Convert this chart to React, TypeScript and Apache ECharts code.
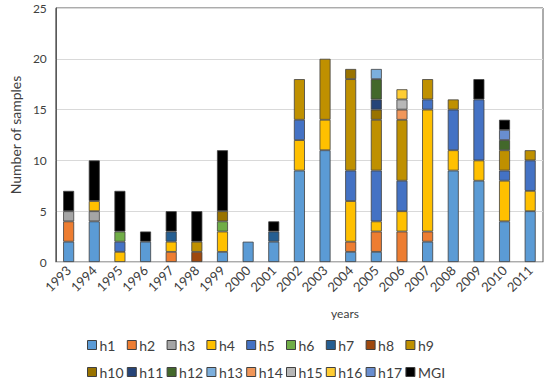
import React, { useEffect, useRef } from "react";
import * as echarts from "echarts";

const years = ["1993","1994","1995","1996","1997","1998","1999","2000","2001","2002","2003","2004","2005","2006","2007","2008","2009","2010","2011"];

const h1 = [2,4,0,2,0,0,1,2,2,9,11,1,1,0,2,9,8,4,5];
const h2 = [2,0,0,0,1,0,0,0,0,0,0,1,2,3,1,0,0,0,0];
const h3 = [1,1,0,0,0,0,0,0,0,0,0,0,0,0,0,0,0,0,0];
const h4 = [0,1,1,0,1,0,2,0,0,3,3,4,1,2,12,2,2,4,2];
const h5 = [0,0,1,0,0,0,0,0,0,2,0,3,5,3,1,4,6,1,3];
const h6 = [0,0,1,0,0,0,1,0,0,0,0,0,0,0,0,0,0,0,0];
const h7 = [0,0,0,0,1,0,0,0,1,0,0,0,0,0,0,0,0,0,0];
const h8 = [0,0,0,0,0,1,0,0,0,0,0,0,0,0,0,0,0,0,0];
const h9 = [0,0,0,0,0,1,0,0,0,4,6,9,5,6,2,1,0,2,1];
const h10 = [0,0,0,0,0,0,1,0,0,0,0,1,1,0,0,0,0,0,0];
const h11 = [0,0,0,0,0,0,0,0,0,0,0,0,1,0,0,0,0,0,0];
const h12 = [0,0,0,0,0,0,0,0,0,0,0,0,2,0,0,0,0,1,0];
const h13 = [0,0,0,0,0,0,0,0,0,0,0,0,1,0,0,0,0,0,0];
const h14 = [0,0,0,0,0,0,0,0,0,0,0,0,0,1,0,0,0,0,0];
const h15 = [0,0,0,0,0,0,0,0,0,0,0,0,0,1,0,0,0,0,0];
const h16 = [0,0,0,0,0,0,0,0,0,0,0,0,0,1,0,0,0,0,0];
const h17 = [0,0,0,0,0,0,0,0,0,0,0,0,0,0,0,0,0,1,0];
const MGI = [2,4,4,1,2,3,6,0,1,0,0,0,0,0,0,0,2,1,0];

const seriesNames = ["h1","h2","h3","h4","h5","h6","h7","h8","h9","h10","h11","h12","h13","h14","h15","h16","h17","MGI"];
const seriesValues = [h1,h2,h3,h4,h5,h6,h7,h8,h9,h10,h11,h12,h13,h14,h15,h16,h17,MGI];
const seriesColors = ["#5B9BD5","#ED7D31","#A5A5A5","#FFC000","#4472C4","#70AD47","#255E91","#9E480E","#BF9000","#997300","#264478","#43682B","#7CAFDD","#F1975A","#B7B7B7","#FFCD33","#698ED0","#000000"];

const FONT = "Lato, 'Open Sans', sans-serif";

export default function App() {
  const ref = useRef<HTMLDivElement>(null);
  useEffect(() => {
    if (!ref.current) return;
    const chart = echarts.init(ref.current, null, { renderer: "svg" });
    // legend laid out as a 9-column grid: one vertical legend per column
    const columns = 9;
    const legends = Array.from({ length: columns }, (_, c) => ({
      left: 87 + c * 39.8,
      top: 338,
      orient: "vertical" as const,
      itemWidth: 9,
      itemHeight: 9,
      itemGap: 13,
      icon: "rect",
      padding: 0,
      textStyle: {
        fontFamily: FONT,
        fontSize: 14,
        lineHeight: 14,
        color: "#404040",
        padding: [0, 0, 0, -2],
      },
      itemStyle: { borderColor: "#404040", borderWidth: 1 },
      data: seriesNames.filter((_, i) => i % columns === c),
    }));
    chart.setOption({
      animation: false,
      textStyle: { fontFamily: FONT },
      grid: { left: 40, right: 7, top: 8, bottom: 122, show: true, borderColor: "#595959", borderWidth: 1, backgroundColor: "transparent" },
      legend: legends,
      xAxis: {
        type: "category",
        data: years,
        axisLine: { show: true, lineStyle: { color: "#D9D9D9" } },
        axisTick: { show: false },
        axisLabel: { rotate: 45, fontSize: 13, color: "#404040", margin: 6, fontFamily: FONT, interval: 0 },
      },
      yAxis: {
        type: "value",
        min: 0,
        max: 25,
        interval: 5,
        name: "Number of samples",
        nameLocation: "middle",
        nameGap: 25,
        nameTextStyle: { fontSize: 14, color: "#404040", fontFamily: FONT },
        axisLine: { show: true, lineStyle: { color: "#595959" } },
        axisTick: { show: false },
        axisLabel: { fontSize: 12, color: "#404040", margin: 9, fontFamily: FONT },
        splitLine: { lineStyle: { color: "#D9D9D9" } },
      },
      graphic: [
        { type: "text", x: 345, y: 313, style: { text: "years", fontSize: 12, fill: "#404040", fontFamily: FONT, align: "center", verticalAlign: "middle" } },
      ],
      series: seriesNames.map((name, i) => ({
        name,
        type: "bar",
        stack: "total",
        barWidth: 11,
        itemStyle: { color: seriesColors[i], borderColor: "#404040", borderWidth: 0.8 },
        data: seriesValues[i].map((v) => (v === 0 ? "-" : v)),
      })),
    });
    return () => chart.dispose();
  }, []);
  return <div ref={ref} style={{ position: "fixed", left: 0, top: 0, width: 550, height: 384, background: "#fff" }} />;
}
